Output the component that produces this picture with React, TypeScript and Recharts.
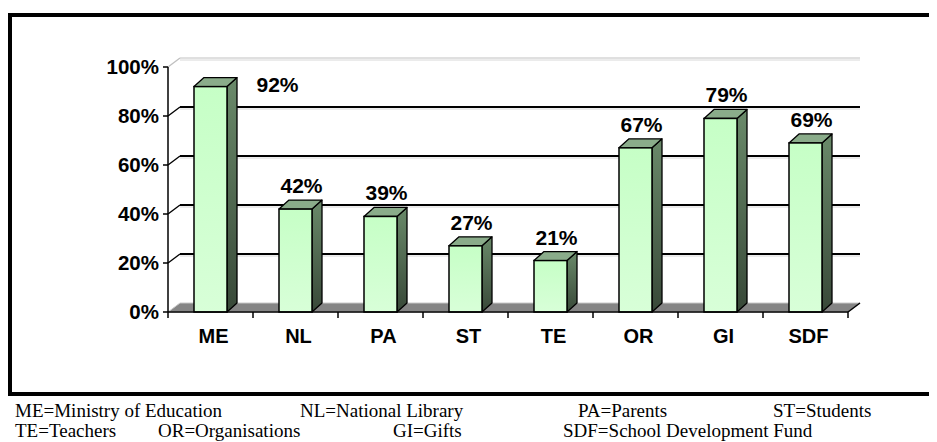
import React from 'react';
import { BarChart, Bar, XAxis, YAxis, CartesianGrid, LabelList } from 'recharts';

const categories = ['ME', 'NL', 'PA', 'ST', 'TE', 'OR', 'GI', 'SDF'];
const values = [92, 42, 39, 27, 21, 67, 79, 69];
const yTicks = [0, 20, 40, 60, 80, 100];
const legendRow1 = ['ME=Ministry of Education', 'NL=National Library', 'PA=Parents', 'ST=Students'];
const legendRow2 = ['TE=Teachers', 'OR=Organisations', 'GI=Gifts', 'SDF=School Development Fund'];

const data = categories.map((name, i) => ({ name, value: values[i] }));

// layout (svg coordinates; svg sits at page offset 8,8)
const W = 929;
const H = 434;
const PLOT_LEFT = 160;
const PLOT_TOP = 59;
const PLOT_W = 680;
const PLOT_H = 245;
const PLOT_BOTTOM = PLOT_TOP + PLOT_H;
const Y_AXIS_W = 60;
const X_AXIS_H = 30;
const BAND = PLOT_W / categories.length;
const WALL_DX = 12;
const WALL_DY = 9;
const BAR_DX = 10;
const BAR_DY = 9;
const AXIS_FONT = '"Liberation Sans", Arial, sans-serif';
const SERIF = '"Liberation Serif", "Times New Roman", serif';

const legendX1 = [7, 292, 570, 765];
const legendX2 = [7, 150, 385, 555];

const Box3D = (props: any) => {
  const { x, y, width, height } = props;
  if (height == null || width == null) return null;
  const r = x + width;
  const b = y + height;
  return (
    <g>
      <polygon
        points={`${r},${y} ${r + BAR_DX},${y - BAR_DY} ${r + BAR_DX},${b - BAR_DY} ${r},${b}`}
        fill="url(#sideGrad)"
        stroke="#000"
        strokeWidth={1.3}
        strokeLinejoin="round"
      />
      <polygon
        points={`${x},${y} ${x + BAR_DX},${y - BAR_DY} ${r + BAR_DX},${y - BAR_DY} ${r},${y}`}
        fill="#8aac8a"
        stroke="#000"
        strokeWidth={1.3}
        strokeLinejoin="round"
      />
      <rect x={x} y={y} width={width} height={height} fill="url(#frontGrad)" stroke="#000" strokeWidth={1.5} />
    </g>
  );
};

const renderLabel = (props: any) => {
  const { x, y, width, value } = props;
  const cx = x + width / 2;
  const above = y - 16;
  let tx = cx + 6;
  let ty = above;
  if (above - 15 < PLOT_TOP) {
    tx = cx + 67;
    ty = y + 5;
  }
  return (
    <text x={tx} y={ty} textAnchor="middle" fontFamily={AXIS_FONT} fontWeight="bold" fontSize={21} fill="#000">
      {`${value}%`}
    </text>
  );
};

const YTick = (props: any) => {
  const { y, payload } = props;
  return (
    <g>
      <line x1={PLOT_LEFT - 5} y1={y} x2={PLOT_LEFT} y2={y} stroke="#000" strokeWidth={1.5} />
      <text x={PLOT_LEFT - 9} y={y + 7} textAnchor="end" fontFamily={AXIS_FONT} fontWeight="bold" fontSize={20.5} fill="#000">
        {`${payload.value}%`}
      </text>
    </g>
  );
};

const XTick = (props: any) => {
  const { x, payload, index } = props;
  const left = x - BAND / 2;
  return (
    <g>
      <line x1={left} y1={PLOT_BOTTOM} x2={left} y2={PLOT_BOTTOM + 6} stroke="#000" strokeWidth={1.5} />
      {index === categories.length - 1 && (
        <line x1={left + BAND} y1={PLOT_BOTTOM} x2={left + BAND} y2={PLOT_BOTTOM + 6} stroke="#000" strokeWidth={1.5} />
      )}
      <text x={x + 3} y={PLOT_BOTTOM + 31} textAnchor="middle" fontFamily={AXIS_FONT} fontWeight="bold" fontSize={20} fill="#000">
        {payload.value}
      </text>
    </g>
  );
};

const gridLine = (p: any) => {
  const { x1, x2, y1, index } = p;
  const key = `g-${index}`;
  if (Math.abs(y1 - PLOT_BOTTOM) < 1) {
    return (
      <g key={key}>
        <polygon
          points={`${x1},${y1} ${x1 + WALL_DX},${y1 - WALL_DY} ${x2 + WALL_DX},${y1 - WALL_DY} ${x2},${y1}`}
          fill="#858585"
          stroke="#c8c8c8"
          strokeWidth={1}
        />
        <line x1={x2} y1={y1} x2={x2 + WALL_DX} y2={y1 - WALL_DY} stroke="#000" strokeWidth={1.5} />
      </g>
    );
  }
  const top = Math.abs(y1 - PLOT_TOP) < 1;
  const col = top ? '#c0c0c0' : '#000';
  return (
    <g key={key}>
      <line x1={x1} y1={y1} x2={x1 + WALL_DX} y2={y1 - WALL_DY} stroke={col} strokeWidth={1.3} />
      <line x1={x1 + WALL_DX} y1={y1 - WALL_DY} x2={x2 + WALL_DX} y2={y1 - WALL_DY} stroke={col} strokeWidth={top ? 1 : 1.8} />
      <line x1={x1 + WALL_DX} y1={y1 - WALL_DY + 2} x2={x2 + WALL_DX} y2={y1 - WALL_DY + 2} stroke="#d8d8d8" strokeWidth={1} />
    </g>
  );
};

const legendStyle = (left: number, top: number): React.CSSProperties => ({
  position: 'absolute',
  left,
  top,
  fontFamily: SERIF,
  fontSize: 19,
  lineHeight: '21px',
  whiteSpace: 'nowrap',
  color: '#000',
});

export default function App() {
  return (
    <div style={{ position: 'relative', width: W, height: H }}>
      <div
        style={{
          position: 'absolute',
          left: 0,
          top: 5,
          width: W,
          height: 383,
          boxSizing: 'border-box',
          borderTop: '4px solid #000',
          borderLeft: '4px solid #000',
          borderBottom: '4px solid #000',
        }}
      />
      <div style={{ position: 'absolute', left: 0, top: 0 }}>
        <BarChart
          width={W}
          height={H}
          data={data}
          margin={{ top: PLOT_TOP, left: PLOT_LEFT - Y_AXIS_W, right: W - PLOT_LEFT - PLOT_W, bottom: H - PLOT_BOTTOM - X_AXIS_H }}
          barCategoryGap={0}
        >
          <defs>
            <linearGradient id="frontGrad" x1="0" y1="0" x2="0" y2="1">
              <stop offset="0%" stopColor="#c6ffc6" />
              <stop offset="100%" stopColor="#d8ffd8" />
            </linearGradient>
            <linearGradient id="sideGrad" x1="0" y1="0" x2="0" y2="1">
              <stop offset="0%" stopColor="#6a8a6a" />
              <stop offset="100%" stopColor="#384838" />
            </linearGradient>
          </defs>
          <CartesianGrid vertical={false} horizontal={gridLine} />
          <YAxis
            type="number"
            domain={[0, 100]}
            ticks={yTicks}
            width={Y_AXIS_W}
            tick={<YTick />}
            tickLine={false}
            axisLine={{ stroke: '#000', strokeWidth: 1.5 }}
            interval={0}
          />
          <XAxis
            dataKey="name"
            height={X_AXIS_H}
            tick={<XTick />}
            tickLine={false}
            axisLine={{ stroke: '#000', strokeWidth: 1.5 }}
            interval={0}
          />
          <Bar dataKey="value" barSize={33} shape={<Box3D />} isAnimationActive={false}>
            <LabelList dataKey="value" content={renderLabel} />
          </Bar>
        </BarChart>
      </div>
      {legendRow1.map((t, i) => (
        <div key={t} style={legendStyle(legendX1[i], 392)}>
          {t}
        </div>
      ))}
      {legendRow2.map((t, i) => (
        <div key={t} style={legendStyle(legendX2[i], 412)}>
          {t}
        </div>
      ))}
    </div>
  );
}
